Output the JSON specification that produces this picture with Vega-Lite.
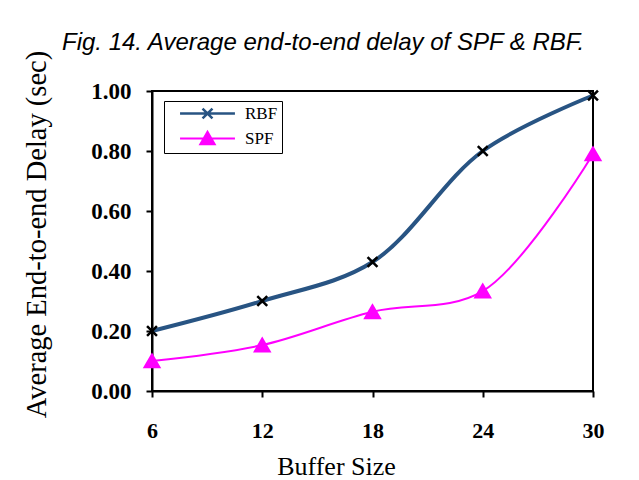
{
  "$schema": "https://vega.github.io/schema/vega-lite/v6.json",
  "width": 441,
  "height": 300,
  "autosize": {"type": "none"},
  "padding": {"left": 152, "top": 91, "right": 46, "bottom": 89},
  "background": "white",
  "title": {
    "text": "Fig. 14. Average end-to-end delay of SPF & RBF.",
    "anchor": "start",
    "frame": "group",
    "dx": -90,
    "offset": -24,
    "baseline": "alphabetic",
    "font": "Liberation Sans",
    "fontStyle": "italic",
    "fontWeight": "normal",
    "fontSize": 24,
    "color": "black"
  },
  "data": {
    "values": [
      {"series": "RBF", "buffer": 6, "delay": 0.2},
      {"series": "RBF", "buffer": 12, "delay": 0.3},
      {"series": "RBF", "buffer": 18, "delay": 0.43},
      {"series": "RBF", "buffer": 24, "delay": 0.8},
      {"series": "RBF", "buffer": 30, "delay": 0.985},
      {"series": "SPF", "buffer": 6, "delay": 0.1},
      {"series": "SPF", "buffer": 12, "delay": 0.153},
      {"series": "SPF", "buffer": 18, "delay": 0.264},
      {"series": "SPF", "buffer": 24, "delay": 0.333},
      {"series": "SPF", "buffer": 30, "delay": 0.79}
    ]
  },
  "encoding": {
    "x": {
      "field": "buffer",
      "type": "quantitative",
      "scale": {"domain": [6, 30], "nice": false, "zero": false},
      "axis": {
        "values": [6, 12, 18, 24, 30],
        "title": "Buffer Size",
        "grid": false,
        "domainColor": "black",
        "domainWidth": 2,
        "tickColor": "black",
        "tickWidth": 2,
        "tickSize": 6,
        "labelFont": "Liberation Serif",
        "labelFontWeight": "bold",
        "labelFontSize": 22,
        "labelColor": "black",
        "labelBaseline": "alphabetic",
        "labelPadding": 40,
        "labelFlush": false,
        "titleFont": "Liberation Serif",
        "titleFontWeight": "normal",
        "titleFontSize": 26,
        "titleColor": "black",
        "titleX": 184,
        "titleY": 83,
        "titleBaseline": "alphabetic",
        "titleAlign": "center"
      }
    },
    "y": {
      "field": "delay",
      "type": "quantitative",
      "scale": {"domain": [0, 1], "nice": false},
      "axis": {
        "values": [0, 0.2, 0.4, 0.6, 0.8, 1],
        "format": ".2f",
        "title": "Average End-to-end Delay (sec)",
        "grid": false,
        "domainColor": "black",
        "domainWidth": 2,
        "tickColor": "black",
        "tickWidth": 2,
        "tickSize": 6,
        "labelFont": "Liberation Serif",
        "labelFontWeight": "bold",
        "labelFontSize": 23,
        "labelColor": "black",
        "labelPadding": 15,
        "titleFont": "Liberation Serif",
        "titleFontWeight": "normal",
        "titleFontSize": 28.5,
        "titleColor": "black",
        "titleX": -107,
        "titleY": 143,
        "titleAngle": -90,
        "titleBaseline": "alphabetic",
        "titleAlign": "center"
      }
    }
  },
  "layer": [
    {
      "mark": {"type": "line", "interpolate": "catmull-rom"},
      "encoding": {
        "color": {
          "field": "series",
          "type": "nominal",
          "scale": {"domain": ["RBF", "SPF"], "range": ["#285483", "#FF00FF"]},
          "legend": {
            "orient": "none",
            "legendX": 12,
            "legendY": 10,
            "title": null,
            "direction": "vertical",
            "padding": 4,
            "symbolSize": 324,
            "symbolOffset": 31,
            "labelOffset": 29,
            "rowPadding": 3,
            "strokeColor": "black",
            "fillColor": "white",
            "labelFont": "Liberation Serif",
            "labelFontSize": 17,
            "labelColor": "black",
            "labelExpr": "datum.label + '\u00a0\u00a0\u00a0\u00a0\u00a0'",
            "symbolStrokeWidth": 2,
            "encode": {
              "symbols": {
                "update": {
                  "shape": {"signal": "datum.value === 'RBF' ? 'M-3.05,0L3.05,0M-0.55,-0.55L0.55,0.55M-0.55,0.55L0.55,-0.55' : 'M-3.05,0L3.05,0M0,-0.75L0.8,0.65L-0.8,0.65Z'"},
                  "fill": {"signal": "datum.value === 'RBF' ? 'transparent' : '#FF00FF'"},
                  "strokeWidth": {"signal": "datum.value === 'RBF' ? 2.5 : 2"}
                }
              }
            }
          }
        },
        "strokeWidth": {
          "field": "series",
          "type": "ordinal",
          "scale": {"range": [4, 2]},
          "legend": null
        }
      }
    },
    {
      "mark": {"type": "point", "opacity": 1, "strokeWidth": 2.5, "size": 200},
      "encoding": {
        "shape": {
          "field": "series",
          "type": "nominal",
          "scale": {"range": ["M-0.7,-0.7L0.7,0.7M-0.7,0.7L0.7,-0.7", "triangle-up"]},
          "legend": null
        },
        "fill": {
          "field": "series",
          "type": "nominal",
          "scale": {"range": ["transparent", "#FF00FF"]},
          "legend": null
        },
        "stroke": {
          "field": "series",
          "type": "nominal",
          "scale": {"range": ["black", "#FF00FF"]},
          "legend": null
        }
      }
    }
  ],
  "config": {
    "view": {"stroke": "black", "strokeWidth": 2}
  }
}
